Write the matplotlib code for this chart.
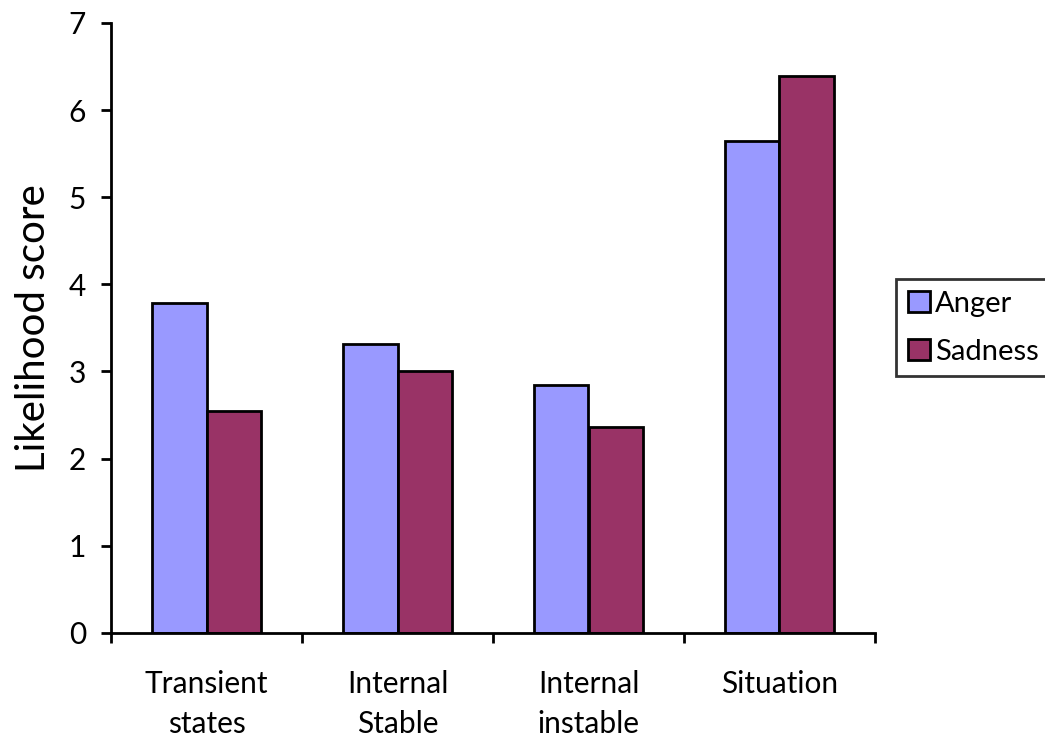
import matplotlib
matplotlib.use("Agg")
import numpy as np
import matplotlib.pyplot as plt
from matplotlib.ticker import FixedLocator

plt.rcParams["font.family"] = ["Lato", "DejaVu Sans"]

# ── data ─────────────────────────────────────────────
categories = ["Transient\nstates", "Internal\nStable", "Internal\ninstable", "Situation"]
anger   = [3.79, 3.32, 2.84, 5.65]
sadness = [2.54, 3.01, 2.36, 6.39]
series_names = ["Anger", "Sadness"]
colors = ["#9999FF", "#993366"]

# ── figure ───────────────────────────────────────────
fig = plt.figure(figsize=(10.45, 7.38), dpi=100)
ax = fig.add_axes([111 / 1045, 1 - 632.7 / 738, (875 - 111) / 1045, (632.7 - 23) / 738])

x = np.arange(len(categories))
w = 1 / 3.5
ax.bar(x - w / 2, anger, w, color=colors[0], edgecolor="black", linewidth=2, label=series_names[0])
ax.bar(x + w / 2, sadness, w, color=colors[1], edgecolor="black", linewidth=2, label=series_names[1])

ax.set_xlim(-0.5, len(categories) - 0.5)
ax.set_ylim(0, 7)
ax.set_yticks(range(0, 8))

ax.set_xticks(x)
ax.set_xticklabels(categories, fontsize=21.5, linespacing=1.5, va="top")
ax.xaxis.set_minor_locator(FixedLocator(np.arange(-0.5, len(categories), 1)))
ax.tick_params(axis="x", which="major", length=0, pad=27)
ax.tick_params(axis="x", which="minor", length=7, width=2, direction="out")
ax.tick_params(axis="y", length=7, width=2, direction="out", labelsize=21.5, pad=11)

for s in ["top", "right"]:
    ax.spines[s].set_visible(False)
for s in ["left", "bottom"]:
    ax.spines[s].set_linewidth(2)

ax.set_ylabel("Likelihood score", fontsize=29, labelpad=12)

leg = fig.legend(loc="upper left", bbox_to_anchor=(896 / 1045, 1 - 279 / 738),
                 frameon=True, fancybox=False, edgecolor="black", fontsize=21,
                 handlelength=0.75, handleheight=0.75, handletextpad=0.2,
                 borderpad=0.4, labelspacing=0.75, borderaxespad=0)
leg.get_frame().set_linewidth(2)

fig.savefig("out.png", dpi=100)
